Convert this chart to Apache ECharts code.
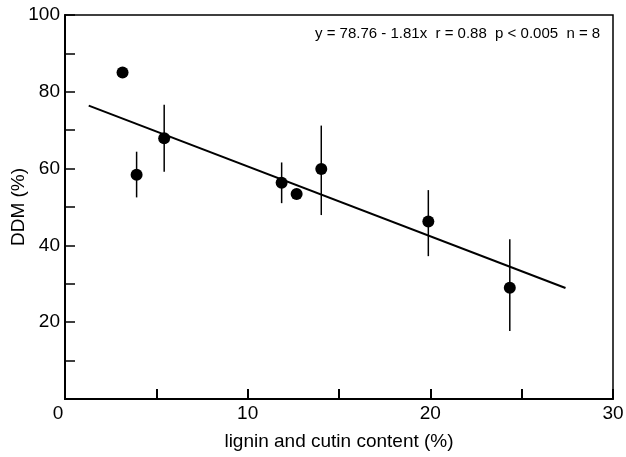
<!DOCTYPE html>
<html><head><meta charset="utf-8">
<script src="https://cdn.jsdelivr.net/npm/echarts@6/dist/echarts.min.js"></script>
<style>html,body{margin:0;padding:0;background:#fff}#c{width:626px;height:457px}</style>
</head><body><div id="c"></div>
<script>
// Data
const ligninCutin = [3.15, 3.92, 5.43, 11.86, 12.68, 14.03, 19.89, 24.35];
const ddm        = [85.0, 58.4, 67.9, 56.3, 53.4, 59.9, 46.2, 29.0];
const ddmLow     = [85.0, 52.5, 59.2, 51.0, 53.4, 47.9, 37.2, 17.7];
const ddmHigh    = [85.0, 64.4, 76.6, 61.6, 53.4, 71.2, 54.4, 41.6];
const fitX = [1.3, 27.4];
const fitY = [76.4, 28.9];
const xTickLabels = ['0', '10', '20', '30'];
const yTickLabels = ['20', '40', '60', '80', '100'];
const equationText = 'y = 78.76 - 1.81x  r = 0.88  p < 0.005  n = 8';

const FONT = 'Liberation Sans, Arial, Helvetica, sans-serif';
const chart = echarts.init(document.getElementById('c'));
chart.setOption({
  backgroundColor: '#fff',
  animation: false,
  grid: { left: 65, top: 15, right: 13, bottom: 58, show: true, borderColor: '#000', borderWidth: 1.5,
          containLabel: false, outerBoundsMode: 'none' },
  xAxis: {
    type: 'value', min: 0, max: 30, interval: 5,
    name: 'lignin and cutin content (%)', nameLocation: 'middle', nameGap: 33, nameMoveOverlap: false,
    nameTextStyle: { fontFamily: FONT, fontSize: 19, color: '#000' },
    axisLine: { lineStyle: { color: '#000', width: 2 } },
    axisTick: { inside: true, length: 10, lineStyle: { color: '#000', width: 2 } },
    axisLabel: { margin: 5, fontFamily: FONT, fontSize: 19, color: '#000',
      formatter: v => {
        const s = String(v);
        if (!xTickLabels.includes(s)) return '';
        return v === 0 ? '{z|' + s + '}' : s;
      },
      rich: { z: { fontFamily: FONT, fontSize: 19, color: '#000', padding: [0, 14, 0, 0] } } },
    splitLine: { show: false }
  },
  yAxis: {
    type: 'value', min: 0, max: 100, interval: 10,
    name: 'DDM (%)', nameLocation: 'middle', nameGap: 37, nameMoveOverlap: false,
    nameTextStyle: { fontFamily: FONT, fontSize: 19, color: '#000' },
    axisLine: { lineStyle: { color: '#000', width: 2 } },
    axisTick: { inside: true, length: 10, lineStyle: { color: '#000', width: 1.5 } },
    axisLabel: { margin: 5, fontFamily: FONT, fontSize: 19, color: '#000',
      formatter: v => yTickLabels.includes(String(v)) ? String(v) : '' },
    splitLine: { show: false }
  },
  graphic: [{
    type: 'text', left: 315, top: 26,
    style: { text: equationText, fontFamily: FONT, fontSize: 15, fill: '#000' }
  }],
  series: [
    {
      type: 'custom', z: 2,
      data: ligninCutin.map((x, i) => [x, ddmLow[i], ddmHigh[i]]),
      renderItem: (params, api) => {
        const p1 = api.coord([api.value(0), api.value(1)]);
        const p2 = api.coord([api.value(0), api.value(2)]);
        return { type: 'line', shape: { x1: p1[0], y1: p1[1], x2: p2[0], y2: p2[1] },
          style: { stroke: '#000', lineWidth: 1.5 } };
      }
    },
    {
      type: 'line', z: 3, symbol: 'none',
      data: fitX.map((x, i) => [x, fitY[i]]),
      lineStyle: { color: '#000', width: 2 }
    },
    {
      type: 'scatter', z: 4, symbol: 'circle', symbolSize: 12,
      data: ligninCutin.map((x, i) => [x, ddm[i]]),
      itemStyle: { color: '#000', opacity: 1 }
    }
  ]
});
</script></body></html>
